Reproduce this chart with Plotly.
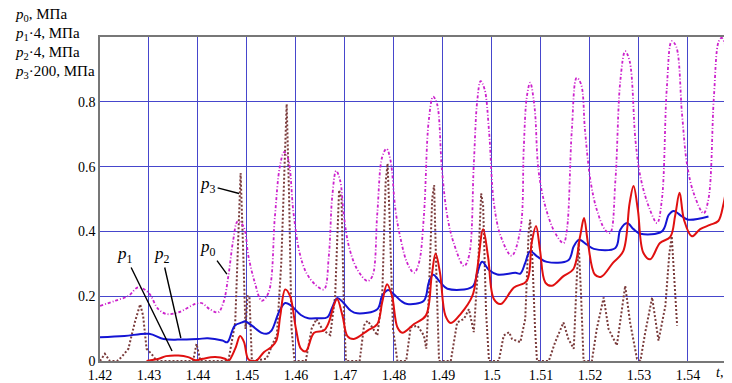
import plotly.graph_objects as go

# ---- data ----
t_p0 = [1.4200, 1.4231, 1.4258, 1.4278, 1.4299, 1.4319, 1.4336, 1.4360, 1.4394, 1.4407,
        1.4424, 1.4441, 1.4452, 1.4462, 1.4472, 1.4481, 1.4493, 1.4503, 1.4516, 1.4530,
        1.4544, 1.4557, 1.4567, 1.4576, 1.4584, 1.4595, 1.4608, 1.4622, 1.4640, 1.4657,
        1.4667, 1.4674, 1.4682, 1.4690, 1.4698, 1.4708, 1.4725, 1.4746, 1.4756, 1.4766,
        1.4776, 1.4785, 1.4793, 1.4803, 1.4814, 1.4827, 1.4841, 1.4851, 1.4861, 1.4871,
        1.4880, 1.4888, 1.4898, 1.4909, 1.4922, 1.4943, 1.4953, 1.4963, 1.4970, 1.4977,
        1.4985, 1.4994, 1.5004, 1.5018, 1.5040, 1.5058, 1.5065, 1.5071, 1.5078, 1.5087,
        1.5095, 1.5109, 1.5129, 1.5146, 1.5153, 1.5163, 1.5173, 1.5182, 1.5190, 1.5201,
        1.5214, 1.5231, 1.5241, 1.5252, 1.5262, 1.5272, 1.5281, 1.5293, 1.5303, 1.5320,
        1.5337, 1.5347, 1.5357, 1.5367, 1.5376, 1.5388, 1.5398, 1.5412, 1.5432, 1.5442,
        1.5453, 1.5463, 1.5469, 1.5479, 1.5490]
p0 = [0.170, 0.186, 0.201, 0.227, 0.211, 0.160, 0.145, 0.150, 0.176, 0.179,
      0.160, 0.150, 0.181, 0.262, 0.374, 0.431, 0.415, 0.323, 0.242, 0.186,
      0.211, 0.446, 0.599, 0.645, 0.624, 0.456, 0.330, 0.270, 0.235, 0.221,
      0.323, 0.507, 0.587, 0.558, 0.446, 0.354, 0.283, 0.247, 0.262, 0.456,
      0.630, 0.655, 0.619, 0.467, 0.374, 0.303, 0.272, 0.303, 0.446, 0.742,
      0.816, 0.793, 0.589, 0.446, 0.364, 0.293, 0.323, 0.609, 0.803, 0.864,
      0.839, 0.711, 0.487, 0.385, 0.325, 0.405, 0.660, 0.813, 0.859, 0.783,
      0.589, 0.477, 0.395, 0.364, 0.405, 0.711, 0.874, 0.854, 0.711, 0.558,
      0.467, 0.405, 0.395, 0.558, 0.864, 0.956, 0.926, 0.680, 0.569, 0.477,
      0.426, 0.500, 0.844, 0.987, 0.971, 0.762, 0.609, 0.517, 0.456, 0.500,
      0.813, 0.987, 0.997, 0.956, 0.711]

t_p1 = [1.4295, 1.4320, 1.4335, 1.4360, 1.4380, 1.4395, 1.4410, 1.4435, 1.4455, 1.4462,
        1.4476, 1.4486, 1.4494, 1.4502, 1.4510, 1.4520, 1.4535, 1.4550, 1.4560, 1.4568,
        1.4578, 1.4588, 1.4600, 1.4610, 1.4620, 1.4637, 1.4657, 1.4667, 1.4678, 1.4684,
        1.4695, 1.4705, 1.4718, 1.4746, 1.4766, 1.4776, 1.4786, 1.4796, 1.4807, 1.4817,
        1.4841, 1.4865, 1.4877, 1.4885, 1.4894, 1.4905, 1.4916, 1.4936, 1.4960, 1.4970,
        1.4982, 1.4992, 1.5004, 1.5018, 1.5045, 1.5071, 1.5081, 1.5090, 1.5098, 1.5109,
        1.5122, 1.5146, 1.5166, 1.5180, 1.5188, 1.5196, 1.5210, 1.5223, 1.5247, 1.5268,
        1.5281, 1.5289, 1.5298, 1.5309, 1.5323, 1.5343, 1.5364, 1.5374, 1.5383, 1.5392,
        1.5408, 1.5425, 1.5445, 1.5462, 1.5473, 1.5481, 1.5490, 1.5500]
p1 = [0.000, 0.007, 0.015, 0.017, 0.012, 0.002, 0.007, 0.012, 0.007, 0.000,
      0.038, 0.077, 0.058, 0.007, 0.000, 0.002, 0.028, 0.043, 0.063, 0.140,
      0.221, 0.200, 0.099, 0.038, 0.030, 0.087, 0.094, 0.119, 0.175, 0.191,
      0.140, 0.077, 0.068, 0.094, 0.114, 0.181, 0.237, 0.201, 0.104, 0.087,
      0.114, 0.140, 0.262, 0.332, 0.272, 0.140, 0.117, 0.145, 0.201, 0.283,
      0.407, 0.323, 0.191, 0.176, 0.227, 0.247, 0.364, 0.417, 0.344, 0.242,
      0.232, 0.262, 0.283, 0.385, 0.441, 0.364, 0.267, 0.260, 0.303, 0.339,
      0.487, 0.540, 0.465, 0.334, 0.314, 0.364, 0.383, 0.449, 0.519, 0.436,
      0.385, 0.407, 0.420, 0.432, 0.487, 0.543, 0.457, 0.411]

t_p2 = [1.4200, 1.4250, 1.4300, 1.4330, 1.4360, 1.4400, 1.4420, 1.4450, 1.4460, 1.4475,
        1.4490, 1.4496, 1.4510, 1.4530, 1.4540, 1.4550, 1.4565, 1.4578, 1.4590, 1.4610,
        1.4625, 1.4644, 1.4664, 1.4674, 1.4684, 1.4695, 1.4712, 1.4725, 1.4766, 1.4776,
        1.4788, 1.4800, 1.4814, 1.4827, 1.4861, 1.4871, 1.4880, 1.4895, 1.4909, 1.4960,
        1.4970, 1.4980, 1.4994, 1.5011, 1.5048, 1.5058, 1.5068, 1.5078, 1.5092, 1.5112,
        1.5156, 1.5167, 1.5178, 1.5194, 1.5208, 1.5252, 1.5262, 1.5276, 1.5289, 1.5303,
        1.5347, 1.5361, 1.5371, 1.5388, 1.5401, 1.5442]
p2 = [0.073, 0.077, 0.084, 0.068, 0.066, 0.068, 0.070, 0.063, 0.058, 0.109,
      0.119, 0.123, 0.109, 0.087, 0.084, 0.094, 0.150, 0.179, 0.171, 0.142,
      0.132, 0.132, 0.135, 0.165, 0.194, 0.183, 0.155, 0.147, 0.160, 0.201,
      0.219, 0.206, 0.186, 0.176, 0.186, 0.242, 0.266, 0.242, 0.223, 0.229,
      0.272, 0.306, 0.281, 0.267, 0.272, 0.270, 0.303, 0.339, 0.323, 0.306,
      0.311, 0.354, 0.374, 0.359, 0.346, 0.349, 0.405, 0.426, 0.407, 0.393,
      0.400, 0.451, 0.463, 0.446, 0.436, 0.446]

t_p3 = [1.4200, 1.4210, 1.4220, 1.4235, 1.4244, 1.4258, 1.4271, 1.4282, 1.4288, 1.4295,
        1.4305, 1.4316, 1.4390, 1.4397, 1.4405, 1.4462, 1.4476, 1.4482, 1.4487, 1.4493,
        1.4497, 1.4501, 1.4505, 1.4510, 1.4540, 1.4554, 1.4561, 1.4570, 1.4576, 1.4581,
        1.4586, 1.4591, 1.4597, 1.4620, 1.4632, 1.4642, 1.4655, 1.4670, 1.4680, 1.4688,
        1.4693, 1.4698, 1.4702, 1.4730, 1.4739, 1.4746, 1.4753, 1.4766, 1.4776, 1.4783,
        1.4787, 1.4791, 1.4798, 1.4807, 1.4825, 1.4834, 1.4848, 1.4861, 1.4866, 1.4871,
        1.4878, 1.4882, 1.4886, 1.4892, 1.4916, 1.4929, 1.4943, 1.4953, 1.4963, 1.4972,
        1.4978, 1.4982, 1.4988, 1.4994, 1.5014, 1.5024, 1.5035, 1.5041, 1.5058, 1.5068,
        1.5075, 1.5078, 1.5083, 1.5088, 1.5092, 1.5116, 1.5129, 1.5146, 1.5156, 1.5167,
        1.5173, 1.5177, 1.5182, 1.5187, 1.5204, 1.5214, 1.5228, 1.5238, 1.5255, 1.5272,
        1.5282, 1.5296, 1.5303, 1.5313, 1.5327, 1.5340, 1.5354, 1.5362, 1.5367, 1.5372,
        1.5378]
p3 = [0.000, 0.022, 0.000, 0.000, 0.012, 0.038, 0.119, 0.175, 0.140, 0.038,
      0.022, 0.000, 0.000, 0.053, 0.000, 0.000, 0.119, 0.405, 0.580, 0.303,
      0.099, 0.200, 0.200, 0.000, 0.007, 0.058, 0.079, 0.303, 0.609, 0.793,
      0.507, 0.099, 0.000, 0.000, 0.100, 0.130, 0.095, 0.080, 0.200, 0.528,
      0.500, 0.150, 0.000, 0.000, 0.110, 0.124, 0.110, 0.079, 0.200, 0.550,
      0.609, 0.450, 0.100, 0.000, 0.000, 0.104, 0.109, 0.079, 0.038, 0.200,
      0.500, 0.543, 0.300, 0.000, 0.000, 0.119, 0.130, 0.160, 0.089, 0.300,
      0.517, 0.480, 0.150, 0.000, 0.000, 0.079, 0.089, 0.068, 0.058, 0.130,
      0.400, 0.436, 0.300, 0.099, 0.000, 0.000, 0.058, 0.119, 0.068, 0.038,
      0.250, 0.364, 0.200, 0.000, 0.000, 0.099, 0.196, 0.099, 0.048, 0.232,
      0.119, 0.007, 0.000, 0.089, 0.196, 0.063, 0.170, 0.330, 0.385, 0.250,
      0.109]

x_tickvals = [1.42, 1.43, 1.44, 1.45, 1.46, 1.47, 1.48, 1.49, 1.50, 1.51, 1.52, 1.53, 1.54]
x_ticktext = ["1.42", "1.43", "1.44", "1.45", "1.46", "1.47", "1.48", "1.49", "1.5",
              "1.51", "1.52", "1.53", "1.54"]
y_tickvals = [0, 0.2, 0.4, 0.6, 0.8]
y_ticktext = ["0", "0.2", "0.4", "0.6", "0.8"]

caption_lines = ["<i>p</i><sub>0</sub>, МПа", "<i>p</i><sub>1</sub>·4, МПа",
                 "<i>p</i><sub>2</sub>·4, МПа", "<i>p</i><sub>3</sub>·200, МПа"]

SERIF = "Liberation Serif"
GRID = "#4646cc"

fig = go.Figure()
fig.add_trace(go.Scatter(x=t_p3, y=p3, mode="lines",
                         line=dict(color="#7a3b3b", width=2, dash="2px,2px")))
fig.add_trace(go.Scatter(x=t_p0, y=p0, mode="lines", line_shape="spline",
                         line=dict(color="#cc22cc", width=1.8, dash="3px,2px,1px,2px")))
fig.add_trace(go.Scatter(x=t_p2, y=p2, mode="lines", line_shape="spline",
                         line=dict(color="#1414d4", width=2)))
fig.add_trace(go.Scatter(x=t_p1, y=p1, mode="lines", line_shape="spline",
                         line=dict(color="#e01010", width=2)))

# page body has an 8px default margin, so the figure is offset by -8px
fig.update_layout(
    width=724, height=375,
    margin=dict(l=92, r=0, t=29, b=20),
    plot_bgcolor="white", paper_bgcolor="white",
    showlegend=False,
    font=dict(family=SERIF, size=14, color="black"),
)
fig.update_xaxes(range=[1.42, 1.549], tickvals=x_tickvals, ticktext=x_ticktext,
                 showgrid=True, gridcolor=GRID, gridwidth=1, zeroline=False,
                 showline=True, linecolor="#777777", linewidth=1.5, mirror=True,
                 ticks="", tickfont=dict(family=SERIF, size=14))
fig.update_yaxes(range=[0, 1.0], tickvals=y_tickvals, ticktext=y_ticktext,
                 showgrid=True, gridcolor=GRID, gridwidth=1, zeroline=False,
                 showline=True, linecolor="#777777", linewidth=1.5,
                 ticks="", tickfont=dict(family=SERIF, size=14))

# y-axis caption (top-left), one annotation per line
for i, line in enumerate(caption_lines):
    fig.add_annotation(
        xref="paper", yref="paper", x=-0.138, y=1.068 - i * 0.0585,
        xanchor="left", yanchor="middle", align="left", showarrow=False,
        font=dict(family=SERIF, size=15), text=line)

# x-axis caption
fig.add_annotation(xref="paper", yref="paper", x=0.972, y=-0.037, xanchor="left",
                   yanchor="middle", showarrow=False, font=dict(family=SERIF, size=14),
                   text="<i>t</i>, с")

# series labels with leader lines
labels = [
    ("<i>p</i><sub>1</sub>", 1.4347, 0.031, -47, -96),
    ("<i>p</i><sub>2</sub>", 1.4365, 0.071, -19, -83),
    ("<i>p</i><sub>0</sub>", 1.4459, 0.268, -19, -26),
    ("<i>p</i><sub>3</sub>", 1.4484, 0.517, -31, -8),
]
for txt, lx, ly, ax, ay in labels:
    fig.add_annotation(x=lx, y=ly, ax=ax, ay=ay, text=txt, showarrow=True,
                       arrowhead=0, arrowwidth=1.4, arrowcolor="black",
                       font=dict(family=SERIF, size=17, color="black"))

fig.write_html("out.html")
